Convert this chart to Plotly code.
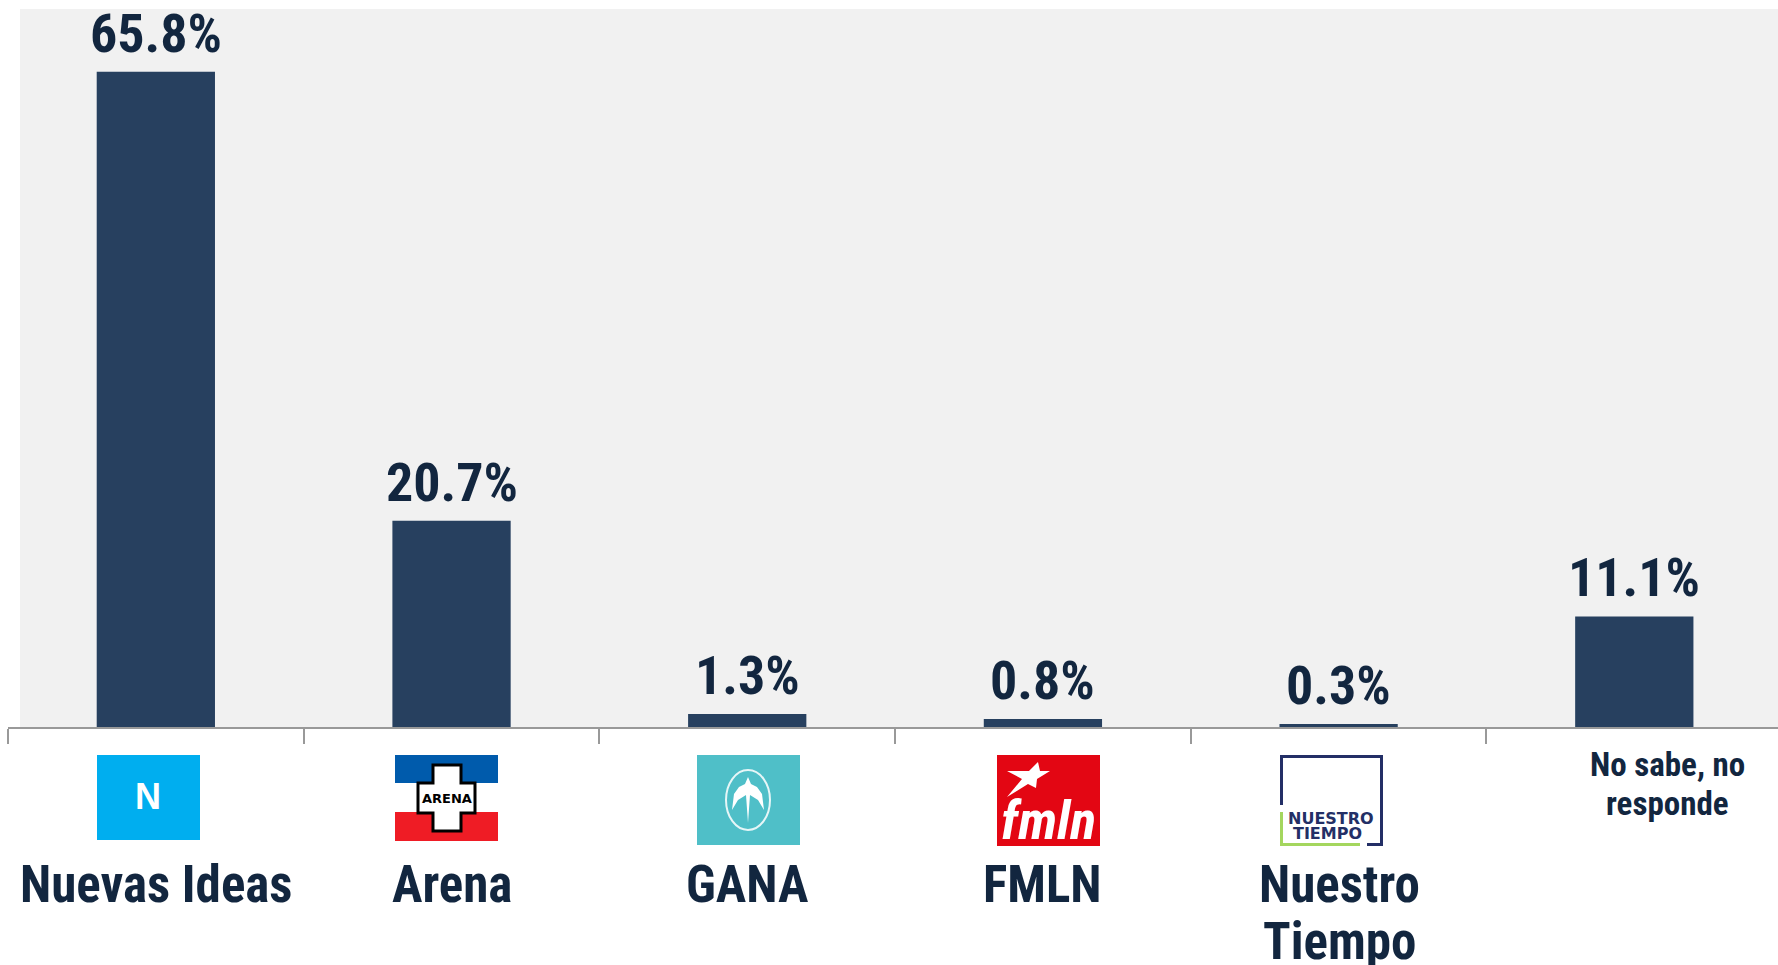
import plotly.graph_objects as go

categories = ["Nuevas Ideas", "Arena", "GANA", "FMLN", "Nuestro Tiempo", "No sabe, no responde"]
values = [65.8, 20.7, 1.3, 0.8, 0.3, 11.1]
value_labels = ["65.8%", "20.7%", "1.3%", "0.8%", "0.3%", "11.1%"]

W, H = 1778, 965
L, R_EDGE, T, B_EDGE = 8, 1778, 9, 727
FONT = "Roboto Condensed"
INK = "#12263F"
BAR = "#27405F"


def px(x):
    return (x - L) / (R_EDGE - L)


def py(y):
    return (B_EDGE - y) / (B_EDGE - T)


def rect(x0, y0, x1, y1, fill, layer="above"):
    return dict(type="rect", xref="paper", yref="paper", x0=px(x0), x1=px(x1), y0=py(y0), y1=py(y1),
                fillcolor=fill, line=dict(color=fill, width=0), layer=layer)


def poly(points, fill, line=None, width=0):
    d = "M" + " L".join(f"{px(a):.5f},{py(b):.5f}" for a, b in points) + " Z"
    return dict(type="path", xref="paper", yref="paper", path=d, fillcolor=fill,
                line=dict(color=line or fill, width=width), layer="above")


def line(x0, y0, x1, y1, color, width=3):
    return dict(type="line", xref="paper", yref="paper", x0=px(x0), x1=px(x1), y0=py(y0), y1=py(y1),
                line=dict(color=color, width=width), layer="above")


def text(x, y, s, size, color=INK, family=FONT, italic=False, xref="paper"):
    t = f"<b>{s}</b>"
    if italic:
        t = f"<i>{t}</i>"
    return dict(text=t, xref=xref, yref="paper", x=px(x) if xref == "paper" else x, y=py(y),
                xanchor="center", yanchor="middle", showarrow=False,
                font=dict(size=size, color=color, family=family))


fig = go.Figure(go.Bar(x=categories, y=values, marker=dict(color=BAR, line=dict(width=0)), width=0.4,
                       hoverinfo="x+y"))

shapes = [rect(20, T, R_EDGE, B_EDGE, "#F1F1F1", layer="below")]

# Nuevas Ideas logo
shapes.append(rect(97, 755, 200, 840, "#00AEEF"))
# Arena logo
shapes += [rect(395, 755, 498, 783, "#005BAC"), rect(395, 812, 498, 841, "#EF1C25")]
cross = [(433, 765), (461, 765), (461, 783), (475, 783), (475, 813), (461, 813), (461, 831), (433, 831),
         (433, 813), (418, 813), (418, 783), (433, 783)]
shapes.append(poly(cross, "#FFFFFF", "#000000", 3))
# GANA logo
shapes.append(rect(697, 755, 800, 845, "#4FBFC8"))
shapes.append(dict(type="circle", xref="paper", yref="paper", x0=px(726), x1=px(770), y0=py(770), y1=py(830),
                   fillcolor="rgba(0,0,0,0)", line=dict(color="#E6F6F7", width=2), layer="above"))
bird = [(748, 777), (751, 784), (757, 787), (762, 794), (764, 810), (758, 800), (750, 795), (748, 823),
        (746, 795), (738, 800), (732, 810), (734, 794), (739, 787), (745, 784)]
shapes.append(poly(bird, "#FFFFFF"))
# FMLN logo
shapes.append(rect(997, 755, 1100, 846, "#E30613"))
star = [(1038, 762), (1040, 771), (1050, 771), (1037, 779), (1036, 788), (1028, 784), (1007, 797), (1022, 779),
        (1007, 771), (1029, 771)]
shapes.append(poly(star, "#FFFFFF"))
# Nuestro Tiempo logo
NAVY, GREEN = "#232F66", "#A4D65E"
shapes += [line(1280, 756.5, 1383, 756.5, NAVY), line(1281.5, 755, 1281.5, 805, NAVY),
           line(1381.5, 755, 1381.5, 846, NAVY), line(1367, 844.5, 1383, 844.5, NAVY),
           line(1281.5, 812, 1281.5, 846, GREEN), line(1280, 844.5, 1360, 844.5, GREEN)]

annotations = []
for c, v, s in zip(categories, values, value_labels):
    annotations.append(dict(text=f"<b>{s}</b>", x=c, y=v, xref="x", yref="y", xanchor="center", yanchor="bottom",
                            yshift=5, showarrow=False, font=dict(size=54, color=INK, family=FONT)))

annotations += [
    text(148, 796, "N", 36, "#FFFFFF", "Liberation Sans"),
    text(447, 798, "ARENA", 13, "#000000", "DejaVu Sans"),
    text(1048, 820, "fmln", 54, "#FFFFFF", FONT, italic=True),
    text(1331, 818, "NUESTRO", 16, NAVY, "DejaVu Sans"),
    text(1327, 833, "TIEMPO", 16, NAVY, "DejaVu Sans"),
    text(0, 884, "Nuevas Ideas", 51, xref="x") | dict(x=categories[0]),
    text(0, 884, "Arena", 51, xref="x") | dict(x=categories[1]),
    text(0, 884, "GANA", 51, xref="x") | dict(x=categories[2]),
    text(0, 884, "FMLN", 51, xref="x") | dict(x=categories[3]),
    text(1339, 884, "Nuestro", 51),
    text(1339, 941, "Tiempo", 51),
    text(1667, 764, "No sabe, no", 33),
    text(1667, 803, "responde", 33),
]

fig.update_layout(
    width=W, height=H, margin=dict(l=L, r=W - R_EDGE, t=T, b=H - B_EDGE, autoexpand=False),
    paper_bgcolor="#FFFFFF", plot_bgcolor="#FFFFFF", showlegend=False,
    shapes=shapes, annotations=annotations,
    xaxis=dict(type="category", categoryorder="array", categoryarray=categories, range=[-0.5, 5.486],
               tickson="boundaries", ticks="outside", ticklen=15, tickwidth=2, tickcolor="#999999",
               showline=True, linecolor="#999999", linewidth=2, showticklabels=False, showgrid=False, zeroline=False),
    yaxis=dict(range=[0, 72.1], visible=False, showgrid=False, zeroline=False),
)

fig.write_html("out.html", config=dict(displayModeBar=False),
               post_script="document.body.style.margin='0';document.body.style.overflow='hidden';")
